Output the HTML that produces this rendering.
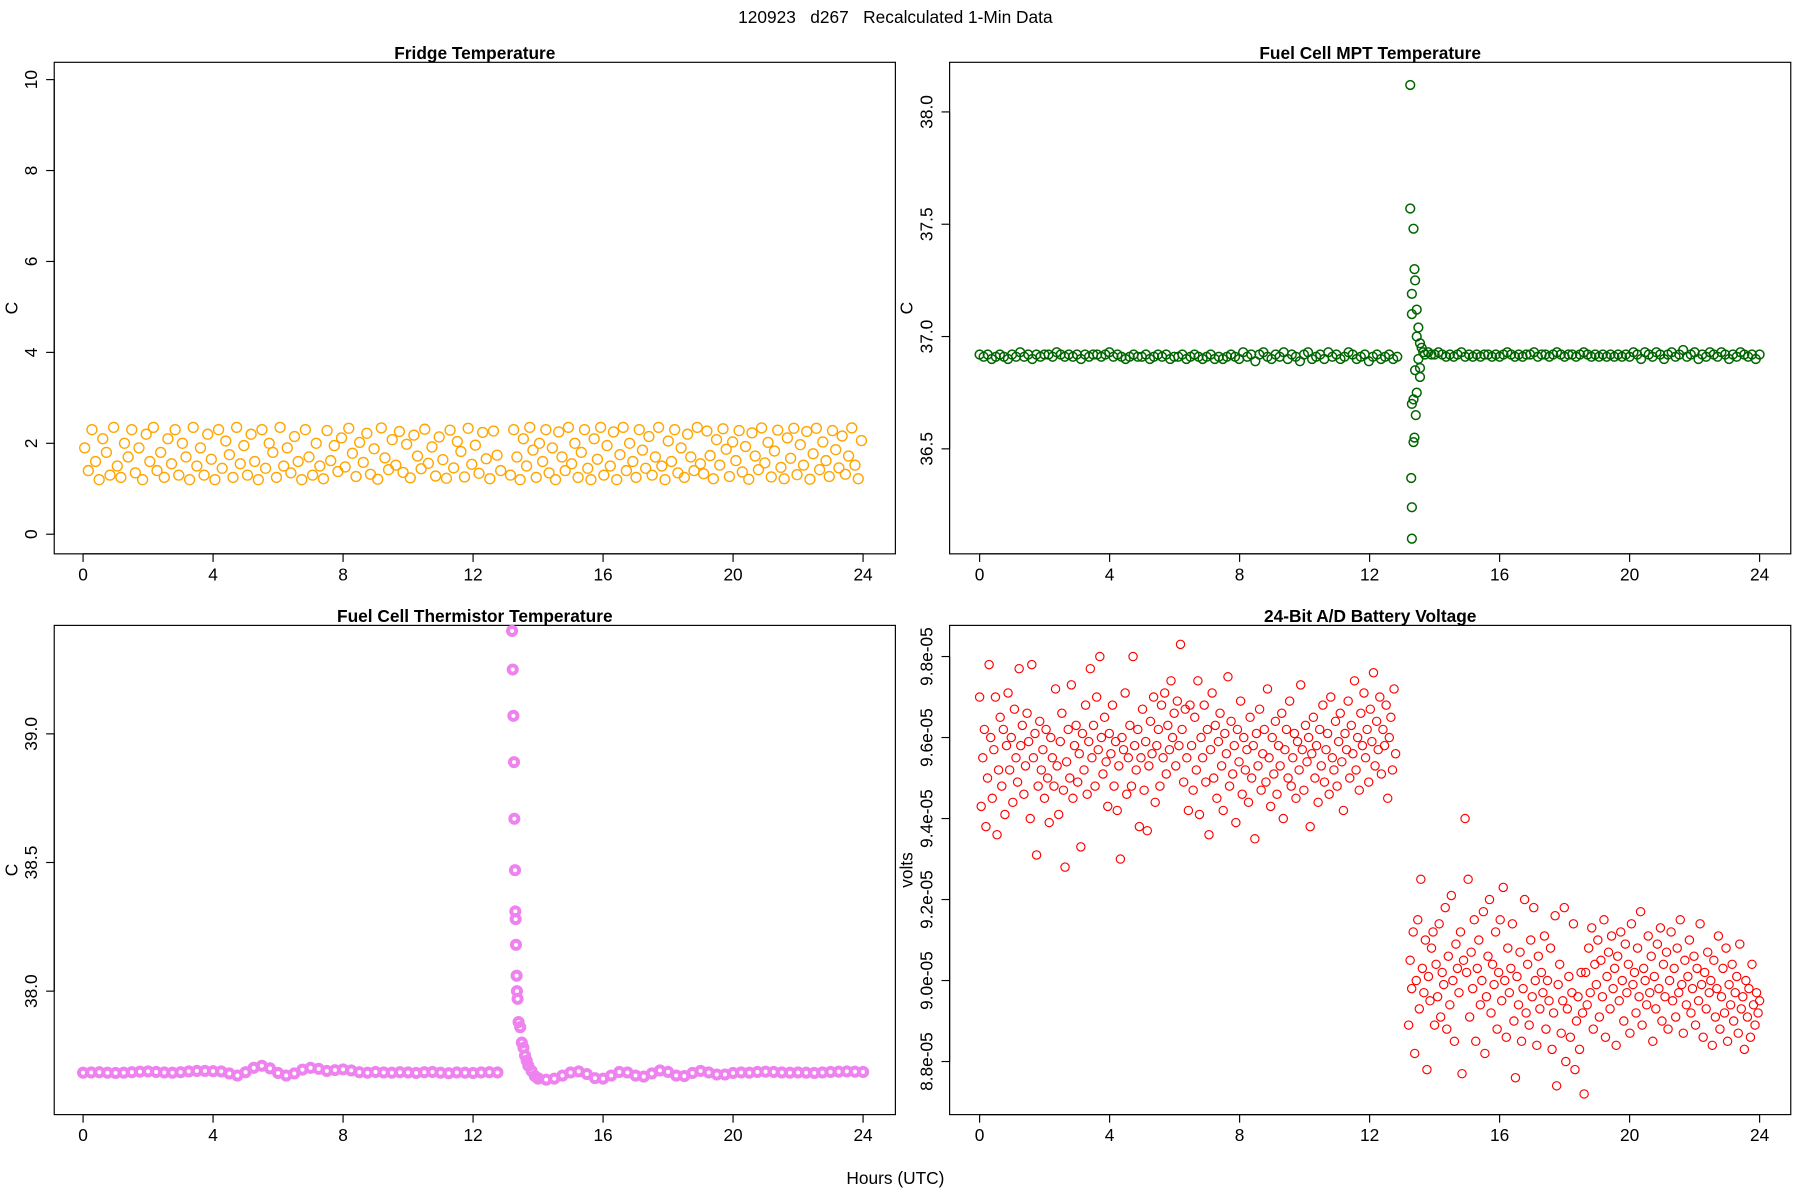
<!DOCTYPE html>
<html><head><meta charset="utf-8"><style>
html,body{margin:0;padding:0;background:#fff}
svg{display:block}
text{font-family:"Liberation Sans",sans-serif;fill:#000}
</style></head><body>
<svg id="chart" width="1800" height="1200" viewBox="0 0 1560 1040" preserveAspectRatio="none" xmlns="http://www.w3.org/2000/svg">
<text x="776" y="20" font-size="15" text-anchor="middle" xml:space="preserve" style="white-space:pre">120923   d267   Recalculated 1-Min Data</text>
<text x="776" y="1026" font-size="15" text-anchor="middle">Hours (UTC)</text>
<g id="plots"></g>
</svg>
<script>
// ---------- data ----------
const fridgeVals1 = [1.9,1.4,2.3,1.6,1.2,2.1,1.8,1.3,2.35,1.5,1.25,2.0,1.7,2.3,1.35,1.9,1.2,2.2,1.6,2.35,1.4,1.8,1.25,2.1,1.55,2.3,1.3,2.0,1.7,1.2,2.35,1.5,1.9,1.3,2.2,1.65,1.2,2.3,1.45,2.05,1.75,1.25,2.35,1.55,1.95,1.3,2.2,1.6,1.2,2.3,1.45,2.0,1.8,1.25,2.35,1.5,1.9,1.35,2.15,1.6,1.2,2.3,1.7,1.3,2.0,1.5,
1.22,2.28,1.62,1.95,1.38,2.12,1.48,2.33,1.78,1.27,2.02,1.58,2.22,1.32,1.88,1.21,2.34,1.68,1.42,2.08,1.52,2.26,1.36,1.98,1.24,2.18,1.72,1.44,2.31,1.56,1.92,1.28,2.14,1.64,1.23,2.29,1.46,2.04,1.82,1.26,2.33,1.54,1.96,1.34,2.24,1.66,1.22,2.27,1.74,1.4];
const fridgeVals2 = [1.3,2.3,1.7,1.2,2.1,1.5,2.35,1.85,1.25,2.0,1.6,2.3,1.35,1.9,1.2,2.25,1.7,1.4,2.35,1.55,2.0,1.25,1.8,2.3,1.45,1.2,2.1,1.65,2.35,1.3,1.95,1.5,2.25,1.2,1.75,2.35,1.4,2.0,1.6,1.25,2.3,1.85,1.45,2.15,1.3,1.7,2.35,1.5,1.2,2.05,1.6,2.3,1.35,1.9,1.25,2.2,1.7,1.4,2.35,1.55,
1.33,2.27,1.73,1.22,2.08,1.52,2.32,1.87,1.27,2.03,1.62,2.28,1.37,1.93,1.21,2.23,1.72,1.42,2.34,1.57,2.02,1.26,1.83,2.29,1.47,1.22,2.12,1.67,2.33,1.31,1.97,1.52,2.26,1.21,1.77,2.33,1.42,2.03,1.62,1.27,2.28,1.86,1.46,2.16,1.32,1.72,2.34,1.52,1.22,2.06];
const mptVals1 = [36.92,36.91,36.92,36.90,36.91,36.92,36.91,36.90,36.92,36.91,36.93,36.91,36.92,36.90,36.92,36.91,36.92,36.92,36.91,36.93,36.92,36.91,36.92,36.91,36.92,36.90,36.92,36.91,36.92,36.92,36.91,36.92,36.93,36.91,36.92,36.91,36.90,36.91,36.92,36.91,36.91,36.92,36.90,36.91,36.92,36.91,36.92,36.90,36.91,36.91,36.92,36.90,36.91,36.92,36.91,36.90,36.91,36.92,36.90,36.91,36.90,36.91,36.92,36.91,
36.90,36.93,36.91,36.92,36.89,36.92,36.93,36.91,36.90,36.92,36.91,36.93,36.90,36.92,36.91,36.89,36.92,36.93,36.90,36.91,36.92,36.90,36.93,36.91,36.92,36.90,36.91,36.93,36.92,36.90,36.91,36.92,36.89,36.91,36.92,36.90,36.91,36.92,36.90,36.91];
const mptVals2 = [36.92,36.93,36.92,36.91,36.92,36.91,36.92,36.93,36.91,36.92,36.91,36.92,36.91,36.92,36.92,36.91,36.92,36.91,36.92,36.93,36.92,36.91,36.92,36.91,36.92,36.92,36.93,36.91,36.92,36.92,36.91,36.92,36.93,36.92,36.91,36.92,36.92,36.91,36.92,36.93,36.92,36.91,36.92,36.91,36.92,36.91,36.92,36.91,36.92,36.91,36.92,
36.91,36.93,36.92,36.90,36.93,36.92,36.91,36.93,36.92,36.90,36.92,36.93,36.91,36.92,36.94,36.91,36.92,36.93,36.90,36.92,36.91,36.93,36.92,36.91,36.93,36.92,36.90,36.92,36.91,36.93,36.92,36.91,36.92,36.90,36.92];
const mptSpikeHours = [13.25,13.25,13.35,13.38,13.4,13.3,13.45,13.3,13.5,13.45,13.55,13.6,13.65,13.5,13.55,13.4,13.55,13.45,13.35,13.3,13.42,13.38,13.35,13.28,13.3,13.3,13.7,13.8,13.9];
const mptSpikeVals = [38.12,37.57,37.48,37.30,37.25,37.19,37.12,37.10,37.04,37.00,36.97,36.95,36.93,36.90,36.86,36.85,36.82,36.75,36.72,36.70,36.65,36.55,36.53,36.37,36.24,36.10,36.92,36.93,36.92];
const thermVals1 = [37.683,37.684,37.685,37.683,37.682,37.683,37.685,37.687,37.688,37.686,37.684,37.683,37.685,37.688,37.690,37.690,37.689,37.688,37.680,37.672,37.685,37.702,37.710,37.700,37.682,37.672,37.680,37.695,37.702,37.698,37.690,37.693,37.696,37.692,37.685,37.683,37.686,37.684,37.683,37.685,37.684,37.682,37.685,37.686,37.683,37.681,37.684,37.683,37.682,37.684,37.685,37.684];
const thermVals2 = [37.662,37.656,37.660,37.672,37.684,37.688,37.678,37.662,37.660,37.672,37.686,37.684,37.672,37.668,37.680,37.692,37.686,37.672,37.670,37.682,37.690,37.684,37.676,37.676,37.682,37.684,37.683,37.686,37.687,37.686,37.684,37.683,37.684,37.683,37.682,37.684,37.686,37.687,37.688,37.687,37.686];
const thermSpikeHours = [13.2,13.22,13.24,13.26,13.27,13.29,13.3,13.31,13.32,13.34,13.35,13.37,13.4,13.45,13.5,13.55,13.6,13.65,13.7,13.8,13.9,14.0];
const thermSpikeVals = [39.40,39.25,39.07,38.89,38.67,38.47,38.31,38.28,38.18,38.06,38.00,37.97,37.88,37.86,37.80,37.78,37.75,37.73,37.71,37.69,37.67,37.66];
const battVals1 = [9.70,9.43,9.55,9.62,9.38,9.50,9.78,9.60,9.45,9.57,9.70,9.36,9.52,9.65,9.48,9.62,9.41,9.58,9.71,9.52,9.60,9.44,9.67,9.55,9.49,9.77,9.58,9.63,9.46,9.53,9.66,9.59,9.40,9.78,9.55,9.61,9.31,9.48,9.64,9.52,9.57,9.45,9.62,9.50,9.39,9.60,9.55,9.48,9.72,9.53,9.41,9.59,9.66,9.47,9.28,9.54,9.62,9.50,9.73,9.45,9.58,9.63,9.49,9.56,9.33,9.61,9.52,9.68,9.46,9.59,9.77,9.55,9.63,9.48,9.70,9.57,9.80,9.60,9.51,9.65,9.54,9.43,9.61,9.56,9.68,9.48,9.59,9.42,9.53,9.30,9.60,9.57,9.71,9.46,9.55,9.63,9.48,9.80,9.58,9.52,9.62,9.38,9.55,9.67,9.47,9.59,9.37,9.53,9.64,9.56,9.70,9.44,9.58,9.62,9.48,9.68,9.55,9.71,9.51,9.63,9.57,9.74,9.60,9.66,9.53,9.69,9.58,9.83,9.62,9.49,9.67,9.55,9.42,9.68,
9.58,9.47,9.65,9.52,9.74,9.41,9.60,9.55,9.68,9.49,9.62,9.36,9.57,9.71,9.50,9.63,9.45,9.59,9.66,9.53,9.42,9.61,9.56,9.75,9.48,9.64,9.51,9.58,9.39,9.62,9.54,9.69,9.46,9.60,9.52,9.57,9.44,9.65,9.50,9.58,9.35,9.61,9.53,9.67,9.47,9.56,9.62,9.49,9.72,9.55,9.43,9.60,9.51,9.64,9.46,9.58,9.53,9.66,9.40,9.57,9.62,9.50,9.69,9.48,9.55,9.61,9.45,9.59,9.52,9.73,9.57,9.47,9.63,9.54,9.60,9.38,9.56,9.65,9.50,9.58,9.44,9.62,9.53,9.68,9.49,9.57,9.61,9.46,9.70,9.55,9.52,9.64,9.48,9.59,9.66,9.54,9.42,9.61,9.57,9.69,9.50,9.63,9.56,9.74,9.52,9.60,9.47,9.66,9.58,9.71,9.55,9.62,9.49,9.67,9.59,9.76,9.53,9.64,9.57,9.70,9.51,9.62,9.58,9.68,9.45,9.60,9.65,9.52,9.72,9.56];
const battVals2 = [8.89,9.05,8.98,9.12,8.82,9.00,9.15,8.93,9.25,9.03,8.97,9.10,8.78,9.01,8.95,9.08,9.12,8.89,9.04,8.96,9.14,8.91,9.02,8.99,9.18,8.88,9.06,8.94,9.21,9.00,8.85,9.09,9.03,8.97,9.12,8.77,9.05,9.40,9.02,9.25,8.91,9.07,8.98,9.15,8.85,9.03,9.10,8.94,9.00,9.17,8.82,8.96,9.06,9.20,8.92,9.04,8.99,9.12,8.88,9.02,9.15,8.95,9.23,9.00,8.86,9.08,8.97,9.03,9.14,8.90,8.76,9.01,8.94,9.07,8.85,8.98,9.20,8.92,9.04,8.89,9.10,8.96,9.18,9.00,8.84,9.06,8.93,9.02,8.97,9.11,8.88,9.00,8.95,9.08,8.83,8.92,9.16,8.74,8.99,9.04,8.87,8.95,9.18,8.80,8.93,9.01,8.86,8.97,9.14,8.78,8.90,8.96,8.83,9.02,8.92,8.72,
9.02,8.94,9.08,8.97,9.13,8.88,9.04,8.99,9.10,8.91,9.05,8.96,9.15,8.86,9.01,9.07,8.93,9.11,8.98,9.03,8.84,9.06,8.95,9.12,9.00,8.90,9.09,8.97,9.04,8.87,9.14,8.99,9.02,8.92,9.08,8.96,9.17,8.89,9.03,9.00,8.94,9.11,8.97,9.06,8.85,9.01,8.93,9.09,8.98,9.13,8.90,9.04,8.96,9.07,8.88,9.00,9.12,8.95,9.03,8.91,9.08,8.97,9.15,8.99,8.87,9.05,8.94,9.01,9.10,8.92,8.98,9.06,8.89,9.03,8.95,9.14,8.99,8.86,9.02,8.93,9.07,8.97,9.00,8.84,9.05,8.91,8.98,9.11,8.88,8.96,9.03,8.92,9.08,8.85,8.99,8.94,9.04,8.90,8.97,9.01,8.87,9.09,8.93,8.96,8.83,9.00,8.91,8.98,8.86,9.04,8.94,8.89,8.97,8.92,8.95];
const xTicks = [0,4,8,12,16,20,24];

// ---------- helpers ----------
const NS = "http://www.w3.org/2000/svg";
const root = document.getElementById('plots');
function mk(tag, attrs, parent){const e=document.createElementNS(NS,tag);for(const k in attrs)e.setAttribute(k,attrs[k]);(parent||root).appendChild(e);return e;}
function spread(n, a, b){const out=[];for(let i=0;i<n;i++)out.push(a+(b-a)*i/(n-1));return out;}

function panel(cfg){
  const g = mk('g',{});
  
  
  const box = mk('rect',{x:cfg.x0,y:cfg.y0,width:cfg.x1-cfg.x0,height:cfg.y1-cfg.y0,fill:'none',stroke:'#000','stroke-width':1},g);
  
  
  const xs = h => cfg.px0 + (cfg.px24-cfg.px0)*h/24;
  const ys = v => cfg.vy0 + (cfg.vy1-cfg.vy0)*(v-cfg.v0)/(cfg.v1-cfg.v0);
  const t = mk('text',{x:(cfg.x0+cfg.x1)/2,y:cfg.y0-3,'font-size':15,'font-weight':'bold','text-anchor':'middle'},g);
  t.textContent = cfg.title;
  
  
  mk('line',{x1:xs(0),x2:xs(24),y1:cfg.y1,y2:cfg.y1,stroke:'#000'},g);
  xTicks.forEach(h=>{
    mk('line',{x1:xs(h),x2:xs(h),y1:cfg.y1,y2:cfg.y1+7,stroke:'#000'},g);
    const l = mk('text',{x:xs(h),y:cfg.y1+23,'font-size':15,'text-anchor':'middle'},g);
    l.textContent = h;
    
    
  });
  mk('line',{x1:cfg.x0,x2:cfg.x0,y1:ys(cfg.yTicks[0]),y2:ys(cfg.yTicks[cfg.yTicks.length-1]),stroke:'#000'},g);
  cfg.yTicks.forEach((v,i)=>{
    mk('line',{x1:cfg.x0-7,x2:cfg.x0,y1:ys(v),y2:ys(v),stroke:'#000'},g);
    const yy=ys(v), xx=cfg.x0-15;
    const l = mk('text',{x:xx,y:yy,'font-size':15,'text-anchor':'middle',transform:`rotate(-90 ${xx} ${yy})`},g);
    l.textContent = cfg.yLabels[i];
    
    
  });
  const yl = mk('text',{x:cfg.x0-32,y:(cfg.y0+cfg.y1)/2,'font-size':15,'text-anchor':'middle',transform:`rotate(-90 ${cfg.x0-32} ${(cfg.y0+cfg.y1)/2})`},g);
  yl.textContent = cfg.ylab;
  
  
  const pts = mk('g',{fill:'none',stroke:cfg.color,'stroke-width':cfg.sw||1},g);
  
  
  cfg.series.forEach(s=>{
    s.h.forEach((h,i)=>{
      const c = mk('circle',{cx:xs(h),cy:ys(s.v[i]),r:cfg.r||3.8},pts);
      
      
    });
  });
}

panel({name:'fridge-temperature-panel',title:'Fridge Temperature',x0:47,x1:776,y0:54,y1:480,px0:72,px24:748,
  v0:0,v1:10,vy0:463,vy1:69,yTicks:[0,2,4,6,8,10],yLabels:['0','2','4','6','8','10'],ylab:'C',color:'#FFA500',r:4.3,sw:1.2,
  series:[{h:spread(fridgeVals1.length,0.05,12.85),v:fridgeVals1},{h:spread(fridgeVals2.length,13.15,23.95),v:fridgeVals2}]});

panel({name:'fuel-cell-mpt-panel',title:'Fuel Cell MPT Temperature',x0:823,x1:1552,y0:54,y1:480,px0:849,px24:1525,
  v0:36.5,v1:38.0,vy0:389,vy1:97,yTicks:[36.5,37.0,37.5,38.0],yLabels:['36.5','37.0','37.5','38.0'],ylab:'C',color:'#006400',sw:1.3,
  series:[{h:spread(mptVals1.length,0.0,12.85),v:mptVals1},{h:spread(mptVals2.length,14.0,24.0),v:mptVals2},{h:mptSpikeHours,v:mptSpikeVals}]});

panel({name:'fuel-cell-thermistor-panel',title:'Fuel Cell Thermistor Temperature',x0:47,x1:776,y0:542,y1:966,px0:72,px24:748,
  v0:38.0,v1:39.0,vy0:859,vy1:636,yTicks:[38.0,38.5,39.0],yLabels:['38.0','38.5','39.0'],ylab:'C',color:'#EE82EE',sw:3.5,r:3.5,
  series:[{h:spread(thermVals1.length,0.0,12.75),v:thermVals1},{h:spread(thermVals2.length,14.0,24.0),v:thermVals2},{h:thermSpikeHours,v:thermSpikeVals}]});

panel({name:'battery-voltage-panel',title:'24-Bit A/D Battery Voltage',x0:823,x1:1552,y0:542,y1:966,px0:849,px24:1525,
  v0:8.8,v1:9.8,vy0:920,vy1:569,yTicks:[8.8,9.0,9.2,9.4,9.6,9.8],yLabels:['8.8e-05','9.0e-05','9.2e-05','9.4e-05','9.6e-05','9.8e-05'],ylab:'volts',color:'#FF0000',r:3.6,
  series:[{h:spread(battVals1.length,0.0,12.8),v:battVals1},{h:spread(battVals2.length,13.2,24.0),v:battVals2}]});
</script>
</body></html>
